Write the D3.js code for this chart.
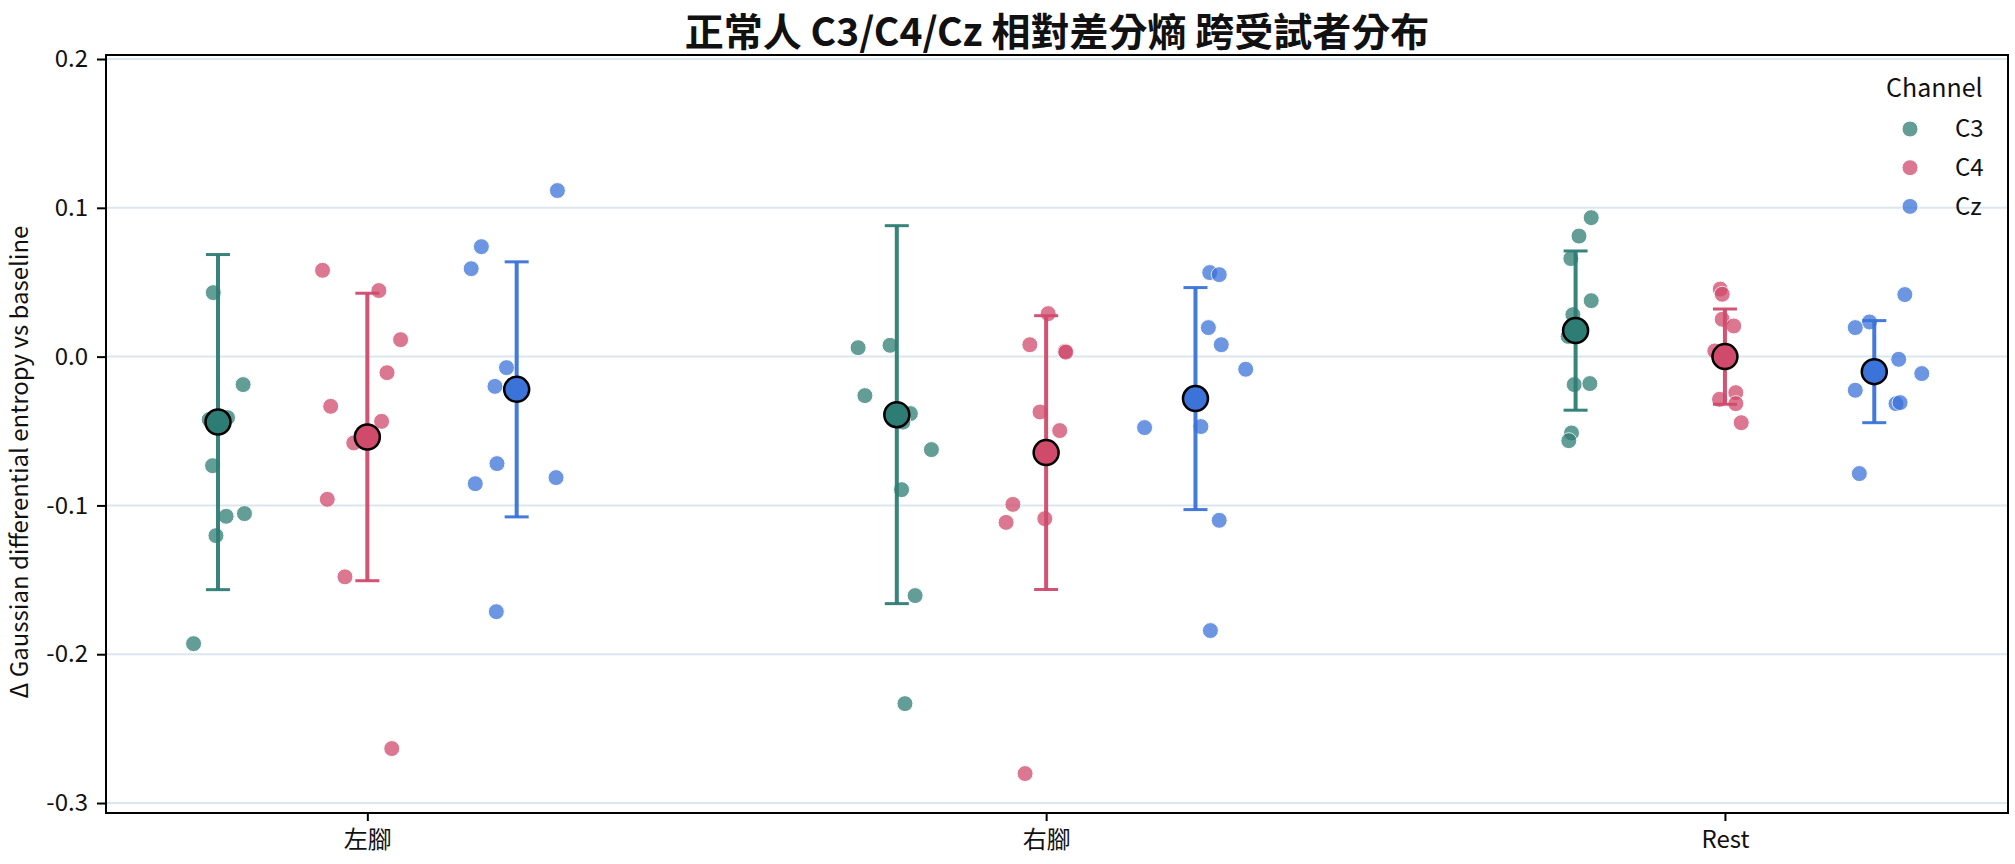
<!DOCTYPE html>
<html>
<head>
<meta charset="utf-8">
<script src="https://cdn.jsdelivr.net/npm/d3@7"></script>
<style>
  html, body { margin: 0; padding: 0; background: #ffffff; }
  svg { display: block; font-family: "Noto Sans CJK TC", "Noto Sans", sans-serif; }
</style>
</head>
<body>
<svg id="chart" width="2015" height="864"></svg>
<script>
// ---------------- data ----------------
const conditions = ["左腳", "右腳", "Rest"];
const channels = ["C3", "C4", "Cz"];
const yTicks = [-0.3, -0.2, -0.1, 0.0, 0.1, 0.2];
const titleText = "正常人 C3/C4/Cz 相對差分熵 跨受試者分布";
const yLabelText = "Δ Gaussian differential entropy vs baseline";
const legendTitle = "Channel";

// means and standard deviations, per condition
const meanC3 = [-0.044, -0.039, 0.0175];
const sdC3   = [0.1126, 0.127, 0.0535];
const meanC4 = [-0.054, -0.0645, 0.0];
const sdC4   = [0.0966, 0.092, 0.032];
const meanCz = [-0.022, -0.0282, -0.0101];
const sdCz   = [0.0857, 0.0746, 0.0343];

// per-subject values (one array per condition), and their jitter (category units)
const subjC3 = [
  [0.043, -0.0188, -0.0423, -0.041, -0.0733, -0.1073, -0.1055, -0.1203, -0.1929],
  [0.006, 0.0076, -0.0262, -0.0383, -0.044, -0.0625, -0.0894, -0.1606, -0.2332],
  [0.0934, 0.081, 0.0659, 0.0376, 0.0282, 0.0136, -0.0188, -0.0181, -0.0513, -0.0565]
];
const jitC3 = [
  [-0.007, 0.037, -0.013, 0.014, -0.008, 0.012, 0.039, -0.003, -0.036],
  [-0.057, -0.010, -0.047, 0.020, 0.009, 0.051, 0.007, 0.027, 0.012],
  [0.023, 0.005, -0.007, 0.023, -0.004, -0.011, -0.002, 0.021, -0.006, -0.010]
];
const subjC4 = [
  [0.058, 0.0444, 0.0114, -0.0108, -0.0334, -0.0435, -0.058, -0.0959, -0.148, -0.2634],
  [0.0289, 0.008, 0.0036, 0.003, -0.0372, -0.0497, -0.0993, -0.1114, -0.1089, -0.2802],
  [0.0454, 0.0419, 0.0251, 0.0206, 0.0038, -0.0242, -0.0287, -0.0316, -0.0444]
];
const jitC4 = [
  [-0.066, 0.017, 0.049, 0.029, -0.054, 0.021, -0.020, -0.059, -0.033, 0.036],
  [0.003, -0.024, 0.028, 0.029, -0.009, 0.020, -0.049, -0.059, -0.002, -0.031],
  [-0.007, -0.004, -0.004, 0.013, -0.015, 0.016, -0.008, 0.016, 0.024]
];
const subjCz = [
  [0.1116, 0.0739, 0.0591, -0.0074, -0.020, -0.0719, -0.0854, -0.0813, -0.1714],
  [0.0565, 0.0551, 0.0195, 0.008, -0.0085, -0.0477, -0.047, -0.110, -0.1841],
  [0.0417, 0.0233, 0.0195, -0.0018, -0.0114, -0.0226, -0.0316, -0.0309, -0.0786]
];
const jitCz = [
  [0.060, -0.052, -0.067, -0.015, -0.032, -0.029, -0.061, 0.058, -0.030],
  [0.021, 0.035, 0.019, 0.038, 0.074, -0.075, 0.008, 0.035, 0.022],
  [0.045, -0.007, -0.028, 0.036, 0.070, -0.028, 0.032, 0.038, -0.022]
];

// ---------------- styling / layout ----------------
const colors = { C3: "#2e7d74", C4: "#d04a6c", Cz: "#3b73d9" };
const dodge = { C3: -0.22, C4: 0, Cz: 0.22 };
const plot = { left: 106, right: 2008, top: 55, bottom: 813 };

const series = [
  { ch: "C3", mean: meanC3, sd: sdC3, subj: subjC3, jit: jitC3 },
  { ch: "C4", mean: meanC4, sd: sdC4, subj: subjC4, jit: jitC4 },
  { ch: "Cz", mean: meanCz, sd: sdCz, subj: subjCz, jit: jitCz }
];

const svg = d3.select("#chart");
const x = d3.scaleLinear().domain([-0.385, 2.417]).range([plot.left, plot.right]);
const y = d3.scaleLinear().domain([-0.3067, 0.2027]).range([plot.bottom, plot.top]);

// gridlines
svg.append("g").selectAll("line").data(yTicks).join("line")
  .attr("x1", plot.left).attr("x2", plot.right)
  .attr("y1", d => y(d)).attr("y2", d => y(d))
  .attr("stroke", "#dce6ef").attr("stroke-width", 2);

// subject points
const pts = [];
series.forEach(s => s.subj.forEach((arr, ci) => arr.forEach((v, k) => {
  pts.push({ ch: s.ch, x: ci + dodge[s.ch] + s.jit[ci][k], v });
})));
svg.append("g").selectAll("circle").data(pts).join("circle")
  .attr("cx", d => x(d.x)).attr("cy", d => y(d.v)).attr("r", 8)
  .attr("fill", d => colors[d.ch]).attr("stroke", "#ffffff").attr("stroke-width", 1)
  .attr("opacity", 0.75);

// error bars
const stats = [];
series.forEach(s => s.mean.forEach((m, ci) => stats.push({ ch: s.ch, x: ci + dodge[s.ch], m, sd: s.sd[ci] })));
const eb = svg.append("g");
eb.selectAll("line.v").data(stats).join("line").attr("class", "v")
  .attr("x1", d => x(d.x)).attr("x2", d => x(d.x))
  .attr("y1", d => y(d.m - d.sd)).attr("y2", d => y(d.m + d.sd))
  .attr("stroke", d => colors[d.ch]).attr("stroke-width", 4).attr("opacity", 0.95);
["lo", "hi"].forEach(side => {
  eb.selectAll("line.c" + side).data(stats).join("line").attr("class", "c" + side)
    .attr("x1", d => x(d.x) - 12).attr("x2", d => x(d.x) + 12)
    .attr("y1", d => y(side === "lo" ? d.m - d.sd : d.m + d.sd))
    .attr("y2", d => y(side === "lo" ? d.m - d.sd : d.m + d.sd))
    .attr("stroke", d => colors[d.ch]).attr("stroke-width", 3).attr("opacity", 0.95);
});

// means
svg.append("g").selectAll("circle").data(stats).join("circle")
  .attr("cx", d => x(d.x)).attr("cy", d => y(d.m)).attr("r", 12.5)
  .attr("fill", d => colors[d.ch]).attr("stroke", "#000000").attr("stroke-width", 2.5);

// axes
const fmt = v => v.toFixed(1);
const yAxis = svg.append("g").attr("transform", `translate(${plot.left},0)`)
  .call(d3.axisLeft(y).tickValues(yTicks).tickFormat(fmt).tickSize(9).tickPadding(9));
const xAxis = svg.append("g").attr("transform", `translate(0,${plot.bottom})`)
  .call(d3.axisBottom(x).tickValues([0, 1, 2]).tickFormat(i => conditions[i]).tickSize(8).tickPadding(10));
[yAxis, xAxis].forEach(a => {
  a.select(".domain").remove();
  a.selectAll(".tick line").attr("stroke", "#000").attr("stroke-width", 2);
  a.selectAll(".tick text").attr("fill", "#111").style("font-size", "24px")
    .style("font-family", "'Noto Sans CJK TC', sans-serif");
});

// frame
svg.append("rect").attr("x", plot.left).attr("y", plot.top)
  .attr("width", plot.right - plot.left).attr("height", plot.bottom - plot.top)
  .attr("fill", "none").attr("stroke", "#000").attr("stroke-width", 2);

// title
svg.append("text").attr("x", (plot.left + plot.right) / 2).attr("y", 46)
  .attr("text-anchor", "middle").style("font-size", "39px").style("font-weight", "bold")
  .attr("fill", "#111").text(titleText);

// y label
svg.append("text").attr("transform", `translate(28,462) rotate(-90)`)
  .attr("text-anchor", "middle").style("font-size", "24px").attr("fill", "#111")
  .text(yLabelText);

// legend
const lg = svg.append("g");
lg.append("text").attr("x", 1886).attr("y", 97).style("font-size", "25px").attr("fill", "#111").text(legendTitle);
lg.selectAll("circle").data(channels).join("circle")
  .attr("cx", 1910).attr("cy", (d, i) => 129 + i * 38.7).attr("r", 8)
  .attr("fill", d => colors[d]).attr("stroke", "#fff").attr("stroke-width", 1).attr("opacity", 0.75);
lg.selectAll("text.lab").data(channels).join("text").attr("class", "lab")
  .attr("x", 1955).attr("y", (d, i) => 129 + i * 38.7).attr("dy", "0.35em")
  .style("font-size", "24px").attr("fill", "#111").text(d => d);
</script>
</body>
</html>
